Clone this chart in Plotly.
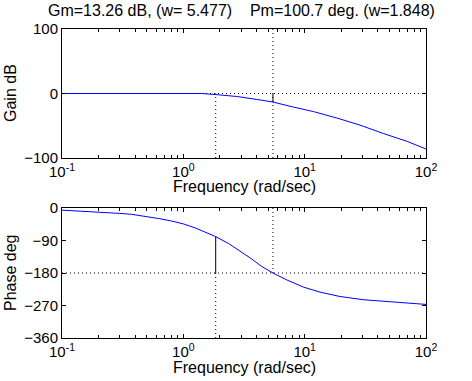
import plotly.graph_objects as go

# ---- data ----
gain_freq = [0.1, 0.3, 0.94, 1.42, 1.94, 2.75, 4.03, 5.477, 8.07, 11.8, 18.4, 28.6, 44.5, 69.3, 100]
gain_db = [0, 0, 0, 0, -2, -4.6, -9.2, -13.26, -21, -28, -38, -49, -62, -74, -86]

phase_freq = [0.1, 0.16, 0.219, 0.30, 0.375, 0.499, 0.622, 0.80, 1.0, 1.25, 1.51, 1.848, 2.35,
              2.93, 3.55, 4.43, 5.477, 7.11, 9.75, 13.4, 19.5, 30.4, 44.5, 69.3, 100]
phase_deg = [-6, -9, -12, -15, -17.5, -23, -29, -36, -44, -55, -67, -79.3, -98,
             -119, -138, -162, -180, -199, -219, -233, -245, -254, -258, -264, -267]

gm_db = 13.26
gm_w = 5.477
pm_deg = 100.7
pm_w = 1.848

x_tickvals = [0.1, 1, 10, 100]
x_ticktext = ["10<sup>-1</sup>", "10<sup>0</sup>", "10<sup>1</sup>", "10<sup>2</sup>"]
gain_ticks = [-100, 0, 100]
phase_ticks = [-360, -270, -180, -90, 0]

title_text = "Gm=13.26 dB, (w= 5.477)    Pm=100.7 deg. (w=1.848)"

# ---- figure ----
fig = go.Figure()
dot = dict(color="black", width=1, dash="1px,3px")
solid = dict(color="black", width=1)

# top: gain
fig.add_trace(go.Scatter(x=[0.1, 100], y=[0, 0], mode="lines", line=dot, xaxis="x", yaxis="y"))
fig.add_trace(go.Scatter(x=[gm_w, gm_w], y=[-100, 100], mode="lines", line=dot, xaxis="x", yaxis="y"))
fig.add_trace(go.Scatter(x=[pm_w, pm_w], y=[-100, 0], mode="lines", line=dot, xaxis="x", yaxis="y"))
fig.add_trace(go.Scatter(x=gain_freq, y=gain_db, mode="lines",
                         line=dict(color="#0000ff", width=1), xaxis="x", yaxis="y"))
fig.add_trace(go.Scatter(x=[gm_w, gm_w], y=[0, -gm_db], mode="lines", line=solid, xaxis="x", yaxis="y"))

# bottom: phase
fig.add_trace(go.Scatter(x=[0.1, 100], y=[-180, -180], mode="lines", line=dot, xaxis="x2", yaxis="y2"))
fig.add_trace(go.Scatter(x=[gm_w, gm_w], y=[-180, 0], mode="lines", line=dot, xaxis="x2", yaxis="y2"))
fig.add_trace(go.Scatter(x=[pm_w, pm_w], y=[-360, -180], mode="lines", line=dot, xaxis="x2", yaxis="y2"))
fig.add_trace(go.Scatter(x=phase_freq, y=phase_deg, mode="lines",
                         line=dict(color="#0000ff", width=1), xaxis="x2", yaxis="y2"))
fig.add_trace(go.Scatter(x=[pm_w, pm_w], y=[-180, -180 + pm_deg], mode="lines", line=solid,
                         xaxis="x2", yaxis="y2"))

W, H = 472, 381

def px(x):
    return x / W

def py(y):
    return 1 - y / H

top_dom = [py(158), py(29)]
bot_dom = [py(338), py(208)]

minor_vals = [m * 10 ** e for e in (-1, 0, 1) for m in range(2, 10)]
FAM = "Liberation Sans, Arial, Helvetica"

def xaxis(anchor):
    return dict(type="log", range=[-1, 2], domain=[px(62), px(426)], anchor=anchor, automargin=False,
                tickmode="array", tickvals=x_tickvals, ticktext=x_ticktext,
                ticks="inside", ticklen=4, tickcolor="black", mirror="ticks",
                showline=True, linecolor="black", linewidth=1, showgrid=False, zeroline=False,
                tickfont=dict(family=FAM, size=15, color="black"),
                minor=dict(tickmode="array", tickvals=minor_vals, ticks="inside", ticklen=3,
                           tickcolor="black", showgrid=False))

def yaxis(anchor, dom, rng, tv):
    return dict(range=rng, domain=dom, anchor=anchor, automargin=False,
                tickmode="array", tickvals=tv,
                ticks="inside", ticklen=4, tickcolor="black", mirror="ticks",
                showline=True, linecolor="black", linewidth=1, showgrid=False, zeroline=False,
                tickfont=dict(family=FAM, size=15, color="black"))

font = dict(family=FAM, size=16, color="black")
fig.update_layout(
    width=W, height=H, margin=dict(l=0, r=0, t=0, b=0, pad=0), autosize=False,
    paper_bgcolor="white", plot_bgcolor="white", showlegend=False,
    xaxis=xaxis("y"), yaxis=yaxis("x", top_dom, [-100, 100], gain_ticks),
    xaxis2=xaxis("y2"), yaxis2=yaxis("x2", bot_dom, [-360, 0], phase_ticks),
    annotations=[
        dict(text=title_text, x=px(242), y=py(11), xref="paper", yref="paper",
             showarrow=False, font=font, xanchor="center", yanchor="middle"),
        dict(text="Frequency (rad/sec)", x=px(245), y=py(186), xref="paper", yref="paper",
             showarrow=False, font=font, xanchor="center", yanchor="middle"),
        dict(text="Frequency (rad/sec)", x=px(245), y=py(367), xref="paper", yref="paper",
             showarrow=False, font=font, xanchor="center", yanchor="middle"),
        dict(text="Gain dB", x=px(10), y=py(93), xref="paper", yref="paper", textangle=-90,
             showarrow=False, font=font, xanchor="center", yanchor="middle"),
        dict(text="Phase deg", x=px(10), y=py(273), xref="paper", yref="paper", textangle=-90,
             showarrow=False, font=font, xanchor="center", yanchor="middle"),
    ],
)

# remove the default 8px page margin so the figure sits at the window's top-left corner
fig.write_html("out.html", config={"displayModeBar": False},
               post_script="document.body.style.margin='0px';")
